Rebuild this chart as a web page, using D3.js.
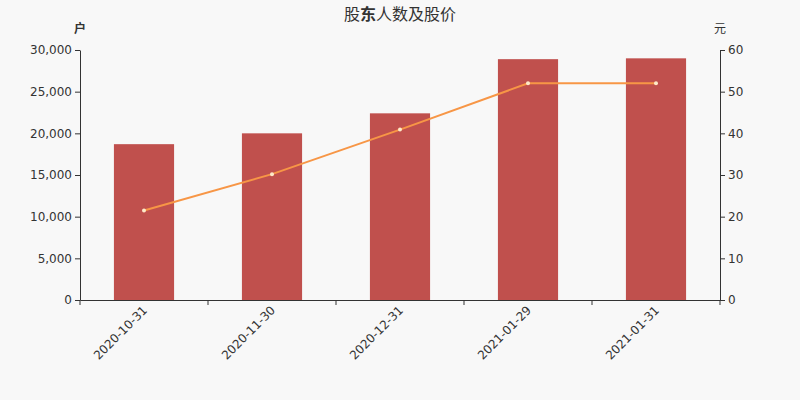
<!DOCTYPE html>
<html>
<head>
<meta charset="utf-8">
<script src="https://cdn.jsdelivr.net/npm/d3@7"></script>
<style>
    body { margin: 0; background: #f8f8f8; }
    svg { display: block; font-family: "DejaVu Sans", "Noto Sans CJK SC", sans-serif; }
    .axis path, .axis line { stroke: #333; }
    .axis text { fill: #333; font-size: 12px; }
</style>
</head>
<body>
<script>
// chart data
var dates = ["2020-10-31", "2020-11-30", "2020-12-31", "2021-01-29", "2021-01-31"];
var holders = [18700, 20000, 22400, 28900, 29000];
var prices = [21.5, 30.2, 40.9, 52.0, 52.0];
var holderTicks = [0, 5000, 10000, 15000, 20000, 25000, 30000];
var priceTicks = [0, 10, 20, 30, 40, 50, 60];

var width = 800, height = 400;
var margin = {top: 50, right: 80, bottom: 100, left: 80};
var fontFam = "DejaVu Sans, Noto Sans CJK SC, sans-serif";

var svg = d3.select("body").append("svg")
    .attr("width", width)
    .attr("height", height);

svg.append("rect")
    .attr("width", width)
    .attr("height", height)
    .attr("fill", "#f8f8f8");

var x = d3.scaleBand()
    .domain(dates)
    .range([margin.left, width - margin.right]);

var yLeft = d3.scaleLinear()
    .domain([0, 30000])
    .range([height - margin.bottom, margin.top]);

var yRight = d3.scaleLinear()
    .domain([0, 60])
    .range([height - margin.bottom, margin.top]);

// bars
var barW = x.bandwidth() * 0.47;
svg.append("g")
    .selectAll("rect")
    .data(dates)
    .enter()
    .append("rect")
    .attr("x", (d) => x(d) + (x.bandwidth() - barW) / 2)
    .attr("y", (d, i) => yLeft(holders[i]))
    .attr("width", barW)
    .attr("height", (d, i) => yLeft(0) - yLeft(holders[i]))
    .attr("fill", "#c0504d");

// price line
var line = d3.line()
    .x((d, i) => x(dates[i]) + x.bandwidth() / 2)
    .y((d) => yRight(d));

svg.append("path")
    .datum(prices)
    .attr("fill", "none")
    .attr("stroke", "#f79646")
    .attr("stroke-width", 2)
    .attr("d", line);

svg.append("g")
    .selectAll("circle")
    .data(prices)
    .enter()
    .append("circle")
    .attr("cx", (d, i) => x(dates[i]) + x.bandwidth() / 2)
    .attr("cy", (d) => yRight(d))
    .attr("r", 2)
    .attr("fill", "#fde9c8")
    .attr("stroke", "none");

// axes
var xAxis = svg.append("g")
    .attr("class", "axis")
    .attr("transform", "translate(0," + (height - margin.bottom) + ")")
    .call(d3.axisBottom(x).tickSize(0).tickSizeOuter(0))
    .attr("font-family", fontFam);

// ticks on band boundaries
xAxis.selectAll(".edge")
    .data(dates.concat(["end"]))
    .enter()
    .append("line")
    .attr("class", "edge")
    .attr("x1", (d, i) => i < dates.length ? x(d) : x.range()[1])
    .attr("x2", (d, i) => i < dates.length ? x(d) : x.range()[1])
    .attr("y1", 0)
    .attr("y2", 5)
    .attr("stroke", "#333");

xAxis.selectAll(".tick text")
    .attr("text-anchor", "end")
    .attr("y", 0)
    .attr("dy", "0.35em")
    .attr("transform", "translate(1,8) rotate(-45)");

svg.append("g")
    .attr("class", "axis")
    .attr("transform", "translate(" + margin.left + ",0)")
    .call(d3.axisLeft(yLeft).tickValues(holderTicks).tickFormat(d3.format(",")).tickSize(5).tickSizeOuter(0))
    .attr("font-family", fontFam);

svg.append("g")
    .attr("class", "axis")
    .attr("transform", "translate(" + (width - margin.right) + ",0)")
    .call(d3.axisRight(yRight).tickValues(priceTicks).tickSize(5).tickSizeOuter(0))
    .attr("font-family", fontFam);

// title and units
var title = svg.append("text")
    .attr("x", width / 2)
    .attr("y", 20)
    .attr("text-anchor", "middle")
    .attr("font-size", "16px")
    .attr("fill", "#333");
title.append("tspan").text("股");
title.append("tspan").attr("font-weight", "bold").text("东");
title.append("tspan").text("人数及股价");

svg.append("text")
    .attr("x", margin.left)
    .attr("y", 33)
    .attr("text-anchor", "middle")
    .attr("font-size", "12px")
    .attr("font-weight", "bold")
    .attr("fill", "#333")
    .text("户");

svg.append("text")
    .attr("x", width - margin.right)
    .attr("y", 33)
    .attr("text-anchor", "middle")
    .attr("font-size", "12px")
    .attr("fill", "#333")
    .text("元");
</script>
</body>
</html>
